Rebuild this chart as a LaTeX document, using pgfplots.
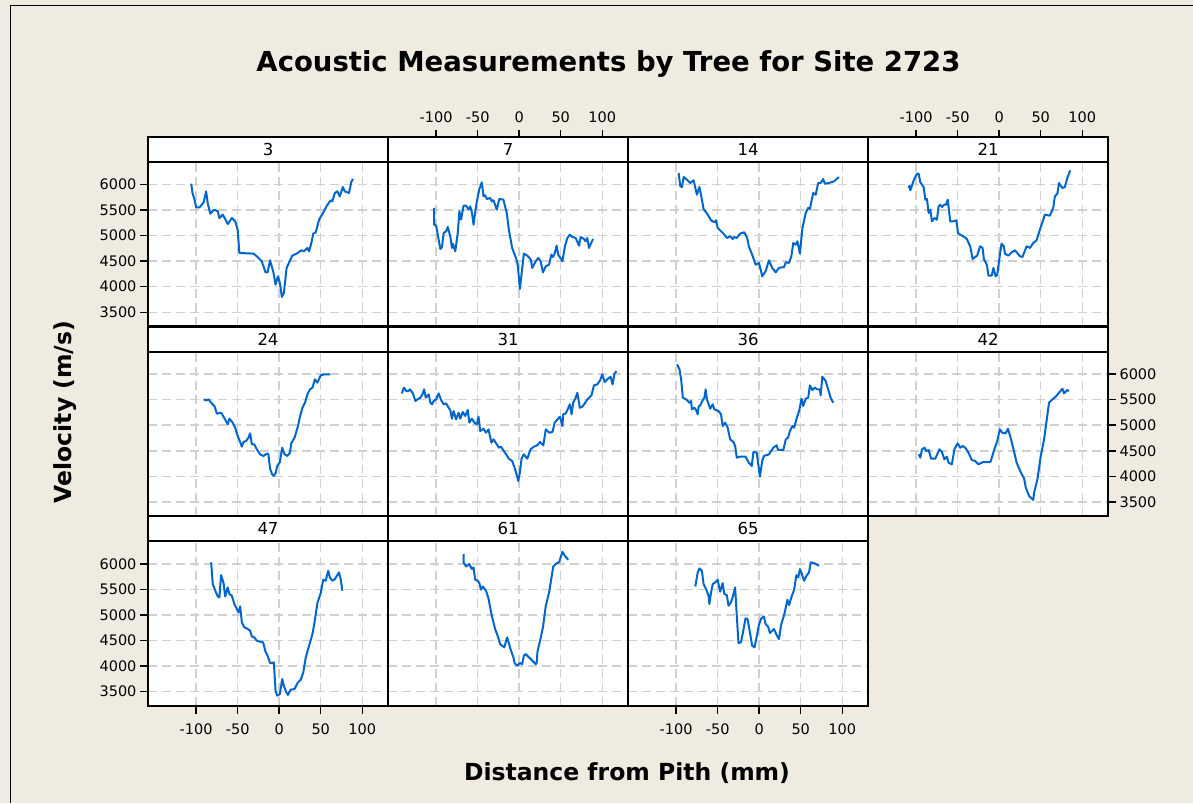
\documentclass[border=0pt]{standalone}
\usepackage{fontspec}
\setmainfont{DejaVu Sans}
\usepackage{pgfplots}
\pgfplotsset{compat=1.18}
\definecolor{bg}{RGB}{239,235,224}
\definecolor{ln}{RGB}{0,102,204}
\definecolor{gr}{RGB}{208,208,208}
\newcommand{\tlfont}{\fontsize{14.5}{16}\selectfont}
\newcommand{\stfont}{\fontsize{16.5}{18}\selectfont}
\pgfplotsset{
  panel/.style={
    width=240pt, height=164.5pt, scale only axis, anchor=north west,
    xmin=-158, xmax=131, ymin=3222, ymax=6437,
    xtick={-100,-50,0,50,100}, ytick={3500,4000,4500,5000,5500,6000},
    xticklabels={}, yticklabels={},
    scaled x ticks=false, scaled y ticks=false,
    grid=major, major grid style={gr, line width=1.5pt, dash pattern=on 9pt off 5pt},
    axis line style={black, line width=2pt},
    axis background/.style={fill=white},
    major tick length=8pt, tick align=outside,
    xtick style={draw=none}, ytick style={draw=none},
    ticklabel style={font=\tlfont},
  },
  ylab/.style={ytick style={draw=black, line width=1.5pt},
    yticklabels={3500,4000,4500,5000,5500,6000}},
  xlab/.style={xtick pos=bottom, xticklabel pos=bottom, xtick style={draw=black, line width=1.5pt},
    xticklabels={-100,-50,0,50,100}, xticklabel shift=6pt},
  strip/.style={
    width=240pt, height=25pt, scale only axis, anchor=south west,
    xmin=-158, xmax=131, ymin=0, ymax=1, xtick=\empty, ytick=\empty,
    axis line style={black, line width=2pt},
    axis background/.style={fill=white},
    major tick length=7pt, tick align=outside,
    ticklabel style={font=\tlfont},
  },
  topticks/.style={xtick={-100,-50,0,50,100}, xticklabels={-100,-50,0,50,100},
    xtick pos=top, xticklabel pos=top, xtick style={draw=black, line width=1.5pt},
    xticklabel shift=4pt},
  dat/.style={ln, line width=2pt, no marks, line join=round},
}
\newcommand{\striplabel}[1]{\node[font=\stfont] at (axis description cs:0.5,0.5) {#1};}
\begin{document}
\begin{tikzpicture}
\fill[bg] (0,0) rectangle (1193pt,803pt);
\path[use as bounding box] (0,0) rectangle (1193pt,803pt);
\draw[black, line width=1.3pt] (10.5pt,0) -- (10.5pt,797.5pt) -- (1193pt,797.5pt);

% ---------- Row 1 ----------
\begin{axis}[panel, ylab, ytick pos=left, yticklabel pos=left, at={(148pt,641pt)}]
\addplot[dat] coordinates {(-106,6013)(-104.4,5831)(-102,5700)(-100,5551)(-96,5551)(-91,5648)(-88,5863)(-86,5622)(-83,5427)(-78,5505)(-74,5473)(-72,5342)(-68,5408)(-65,5323)(-62,5225)(-57,5342)(-53,5277)(-50,5115)(-48,4659)(-31,4646)(-27,4594)(-21,4496)(-16.5,4281)(-14,4281)(-11,4516)(-7,4281)(-4.4,4040)(-1.6,4203)(0.8,4073)(3.2,3800)(5.6,3878)(8.9,4366)(15.7,4607)(21,4646)(26.6,4711)(29.8,4691)(34,4757)(36,4691)(38.7,4854)(41,5036)(44,5063)(48,5310)(52,5421)(55,5505)(57,5570)(59,5622)(62,5688)(64,5668)(67,5831)(70,5863)(73,5766)(76.6,5948)(79,5863)(84,5831)(87,6059)(89,6104)};
\end{axis}
\begin{axis}[panel, at={(388pt,641pt)}]
\addplot[dat] coordinates {(-102.4,5538)(-102.4,5212)(-100,5193)(-95,4737)(-93,4776)(-91,5050)(-88,5082)(-86,5167)(-83,4984)(-81,4757)(-80,4841)(-77,4691)(-74,5050)(-72,5473)(-70,5310)(-67,5583)(-64,5583)(-61,5505)(-59,5570)(-57,5453)(-55,5212)(-53,5453)(-51,5668)(-48,5909)(-45,6039)(-43,5766)(-41,5785)(-39,5714)(-35,5733)(-33,5668)(-31,5688)(-27,5505)(-24,5714)(-19,5701)(-15,5440)(-12.5,5115)(-8.5,4757)(-3.2,4529)(-1.6,4399)(0.8,3956)(5.6,4646)(9.7,4607)(14,4529)(15.7,4366)(19.8,4496)(23,4561)(25.8,4496)(28.6,4281)(32,4399)(36,4431)(38.7,4626)(40.7,4581)(42.7,4646)(45,4802)(47,4626)(52,4496)(55,4789)(58,4952)(61,5017)(64,4971)(68,4952)(72,4802)(74,4971)(78,4932)(80,4887)(82,4952)(84,4757)(87,4867)(89,4932)};
\end{axis}
\begin{axis}[panel, at={(628pt,641pt)}]
\addplot[dat] coordinates {(-97,6221)(-95,5961)(-93,5948)(-91,6143)(-87,6091)(-83,6026)(-79,6078)(-75,5798)(-72,5948)(-69,5701)(-67,5518)(-62,5408)(-58,5297)(-54,5258)(-52,5297)(-50,5147)(-46,5082)(-42,5017)(-39,4952)(-35,4984)(-32,4932)(-30,4971)(-27,4952)(-23,5037)(-18,5063)(-14.5,4952)(-12.5,4789)(-8.5,4626)(-4.4,4431)(-0.4,4464)(1.6,4346)(3.6,4203)(7.7,4301)(11.7,4516)(15.7,4366)(19.8,4281)(23.8,4366)(30,4386)(32,4477)(36,4464)(38.7,4594)(41,4854)(44,4822)(46,4887)(49,4646)(52,5147)(56,5440)(59,5538)(61,5518)(65,5831)(68,5798)(71,6026)(74,6026)(77,6104)(79,6013)(84,6026)(90,6059)(96,6143)};
\end{axis}
\begin{axis}[panel, at={(868pt,641pt)}]
\addplot[dat] coordinates {(-109,5928)(-108,5974)(-107,5883)(-103,6078)(-99,6208)(-97,6208)(-95,6039)(-91,5948)(-89,5701)(-87,5714)(-85,5440)(-83,5505)(-81,5277)(-78,5342)(-75,5310)(-73,5570)(-71,5603)(-69,5557)(-66,5603)(-64,5603)(-62,5701)(-59,5277)(-55,5277)(-51.6,5297)(-49.6,5050)(-47,5017)(-43,4984)(-39,4932)(-35,4789)(-32,4542)(-29,4581)(-26.6,4607)(-23,4789)(-20,4757)(-18.5,4542)(-15,4431)(-12.9,4216)(-9,4216)(-7,4366)(-4.4,4203)(-2.4,4236)(0,4529)(2.8,4841)(5.6,4789)(6.9,4646)(11,4607)(15,4672)(19,4711)(25,4594)(28,4581)(33,4789)(37,4757)(41,4854)(45,4906)(49,5115)(52,5258)(55,5408)(61,5388)(65,5538)(67,5766)(70,5818)(72,6026)(76,5928)(79,5948)(82,6124)(85.5,6273)};
\end{axis}

% ---------- Row 2 ----------
\begin{axis}[panel, at={(148pt,451.3pt)}]
\addplot[dat] coordinates {(-91,5505)(-88,5486)(-85,5505)(-82,5440)(-78,5375)(-75,5225)(-70,5245)(-67,5167)(-62,5017)(-60,5128)(-56,5050)(-53,4952)(-50,4789)(-47,4672)(-45,4581)(-43,4672)(-40,4691)(-37,4757)(-35,4841)(-33,4626)(-30,4626)(-27,4529)(-23,4431)(-19,4399)(-15,4444)(-13,4431)(-11,4151)(-8.5,4040)(-6.5,4008)(-4.4,4060)(-2.4,4203)(0.8,4281)(3.6,4561)(6.5,4431)(9.7,4399)(13,4464)(14.5,4646)(18.5,4757)(22.6,4984)(25,5167)(28,5342)(31,5440)(34,5603)(37,5701)(40,5733)(43,5896)(46,5831)(50,5974)(54,5994)(61,5994)};
\end{axis}
\begin{axis}[panel, at={(388pt,451.3pt)}]
\addplot[dat] coordinates {(-141.5,5622)(-138.7,5733)(-136,5668)(-133.5,5668)(-131.5,5701)(-128,5622)(-125,5473)(-122.6,5505)(-119,5538)(-116.5,5603)(-114.5,5701)(-112.5,5538)(-109,5603)(-107,5440)(-105,5408)(-103,5473)(-100,5505)(-97,5622)(-94,5492)(-91,5408)(-88,5427)(-85,5342)(-83,5297)(-81,5128)(-79,5277)(-76,5115)(-73,5245)(-71,5128)(-68,5258)(-65,5180)(-62,5297)(-60,5050)(-57,5128)(-54,5050)(-51,5017)(-49,5167)(-47,4887)(-43,4932)(-40,4854)(-37,4919)(-33.5,4659)(-31,4724)(-27,4626)(-24.6,4561)(-22,4581)(-18.5,4496)(-15,4412)(-12.5,4346)(-8.5,4301)(-5.6,4171)(-3.2,4040)(-1.2,3910)(0.8,4073)(2.8,4346)(5.6,4431)(9.7,4346)(13.7,4529)(17.7,4581)(21.8,4607)(25,4672)(29,4607)(32,4919)(36,4854)(40,4867)(42.7,5050)(46,5115)(49,5167)(52,4984)(53,5212)(56,5232)(58,5297)(61,5408)(63,5212)(65,5440)(68,5538)(70,5635)(73,5342)(76,5362)(79,5427)(82,5505)(84,5538)(87,5583)(90,5779)(94,5798)(97.6,5883)(100,5994)(103,5844)(106,5896)(110,5948)(112.5,5798)(114.5,5994)(117,6059)};
\end{axis}
\begin{axis}[panel, at={(628pt,451.3pt)}]
\addplot[dat] coordinates {(-99,6189)(-96,6091)(-94,5896)(-92,5538)(-88,5505)(-84,5440)(-82,5473)(-81,5310)(-78,5342)(-76,5297)(-74,5212)(-73,5362)(-71,5388)(-68,5492)(-66,5538)(-64.5,5701)(-63,5505)(-59,5323)(-56,5408)(-54,5310)(-49,5277)(-46,5212)(-44,4984)(-41,5050)(-38,4952)(-35,4724)(-31,4672)(-29,4594)(-27,4366)(-23,4386)(-16.5,4386)(-12.5,4268)(-9,4203)(-7,4477)(-3,4464)(0.8,3995)(3.6,4301)(5.6,4399)(11.7,4431)(17,4561)(21,4607)(22.6,4516)(29,4516)(32,4724)(34.7,4757)(37,4887)(40,4984)(42,4952)(45,5128)(48,5277)(51,5518)(53,5375)(56,5518)(59,5538)(61,5779)(64,5688)(67,5733)(70,5701)(73,5701)(74,5583)(76,5948)(80,5863)(83,5701)(86,5538)(89,5440)};
\end{axis}
\begin{axis}[panel, ylab, ytick pos=right, yticklabel pos=right, at={(868pt,451.3pt)}]
\addplot[dat] coordinates {(-97,4431)(-95,4366)(-93,4529)(-90,4561)(-88,4496)(-85,4516)(-82,4346)(-77,4346)(-72,4529)(-69,4477)(-66,4333)(-63,4386)(-61,4268)(-57,4236)(-54,4529)(-50,4646)(-47,4561)(-44,4594)(-41,4561)(-37,4464)(-33,4320)(-29,4301)(-25,4236)(-19.4,4281)(-10.5,4281)(-6.5,4496)(-2.4,4691)(0.8,4919)(3.6,4854)(7.7,4841)(10.5,4932)(13.7,4757)(17.7,4496)(21,4268)(25.8,4086)(30,3956)(32,3780)(36,3617)(41,3539)(42,3682)(46,3943)(50,4399)(54,4724)(57,5082)(60,5440)(64,5505)(68,5557)(72,5635)(76,5714)(78,5622)(82,5688)(84,5668)};
\end{axis}

% ---------- Row 3 ----------
\begin{axis}[panel, ylab, ytick pos=left, yticklabel pos=left, xlab, at={(148pt,261.6pt)}]
\addplot[dat] coordinates {(-82,6026)(-80,5603)(-77,5473)(-74,5362)(-72,5342)(-70,5779)(-67,5622)(-65,5362)(-62,5538)(-60,5408)(-57,5375)(-54,5212)(-52,5147)(-49,5050)(-47,5167)(-45,4854)(-42,4757)(-39,4737)(-35,4691)(-33,4581)(-30,4561)(-27,4496)(-23,4477)(-19.4,4464)(-16.5,4281)(-14,4203)(-11,4060)(-8.5,4060)(-6.5,4073)(-4.4,3520)(-2.4,3422)(0.8,3454)(3.6,3747)(5.6,3617)(7.7,3520)(10.5,3435)(13.7,3539)(18.5,3552)(22,3669)(26,3734)(29,3878)(32,4171)(36,4399)(40,4626)(42,4802)(46,5232)(50,5427)(53,5688)(56,5668)(59,5863)(61,5733)(64,5668)(67,5701)(70,5779)(72,5831)(74,5701)(76,5473)};
\end{axis}
\begin{axis}[panel, at={(388pt,261.6pt)}]
\addplot[dat] coordinates {(-67,6189)(-67,6026)(-64,5948)(-60,5994)(-57,5896)(-55,5928)(-53,5688)(-50,5668)(-48,5622)(-46,5492)(-44,5557)(-40,5473)(-37,5323)(-35,5147)(-33,4984)(-29,4724)(-26,4594)(-23,4431)(-18,4366)(-14.5,4561)(-10.5,4333)(-7,4171)(-5.6,4060)(-2.4,4008)(0.8,4060)(3.6,4040)(5.6,4203)(7.7,4236)(11.7,4171)(15.7,4106)(19.8,4040)(21,4060)(22,4281)(26,4561)(28.6,4757)(32,5180)(36,5440)(38.7,5714)(41,5948)(45,6013)(48,6026)(52,6234)(55,6156)(59,6078)};
\end{axis}
\begin{axis}[panel, xlab, at={(628pt,261.6pt)}]
\addplot[dat] coordinates {(-77,5557)(-74,5831)(-72,5909)(-69,5863)(-67,5603)(-64,5505)(-61,5375)(-60,5212)(-58,5440)(-56,5603)(-53,5635)(-50,5688)(-49,5603)(-47,5453)(-44,5622)(-42,5408)(-39,5388)(-37,5180)(-34,5245)(-32,5342)(-29,5538)(-27,4984)(-25,4451)(-22,4464)(-19.4,4672)(-16.5,4932)(-14,4919)(-10.5,4594)(-8.5,4399)(-5.6,4366)(-3.2,4561)(-0.4,4802)(2.4,4932)(5.6,4971)(7.7,4822)(10.5,4776)(13,4646)(17.7,4724)(21,4607)(23.8,4529)(26.6,4822)(30,4997)(34,5297)(36,5193)(38.7,5342)(42,5492)(44.8,5779)(47,5733)(49,5896)(51,5818)(54,5668)(57,5766)(60,5831)(62,6026)(66,6013)(72,5961)};
\end{axis}

% ---------- Strips ----------
\begin{axis}[strip, at={(148pt,641pt)}]\striplabel{3}\end{axis}
\begin{axis}[strip, topticks, at={(388pt,641pt)}]\striplabel{7}\end{axis}
\begin{axis}[strip, at={(628pt,641pt)}]\striplabel{14}\end{axis}
\begin{axis}[strip, topticks, at={(868pt,641pt)}]\striplabel{21}\end{axis}
\begin{axis}[strip, at={(148pt,451.3pt)}]\striplabel{24}\end{axis}
\begin{axis}[strip, at={(388pt,451.3pt)}]\striplabel{31}\end{axis}
\begin{axis}[strip, at={(628pt,451.3pt)}]\striplabel{36}\end{axis}
\begin{axis}[strip, at={(868pt,451.3pt)}]\striplabel{42}\end{axis}
\begin{axis}[strip, at={(148pt,261.6pt)}]\striplabel{47}\end{axis}
\begin{axis}[strip, at={(388pt,261.6pt)}]\striplabel{61}\end{axis}
\begin{axis}[strip, at={(628pt,261.6pt)}]\striplabel{65}\end{axis}

% ---------- Titles ----------
\node[font=\fontsize{27.5}{32}\selectfont\bfseries] at (608.5pt,738.5pt) {Acoustic Measurements by Tree for Site 2723};
\node[font=\fontsize{23.5}{28}\selectfont\bfseries, rotate=90] at (65pt,391pt) {Velocity (m/s)};
\node[font=\fontsize{23.5}{28}\selectfont\bfseries] at (627pt,30pt) {Distance from Pith (mm)};
\end{tikzpicture}
\end{document}
